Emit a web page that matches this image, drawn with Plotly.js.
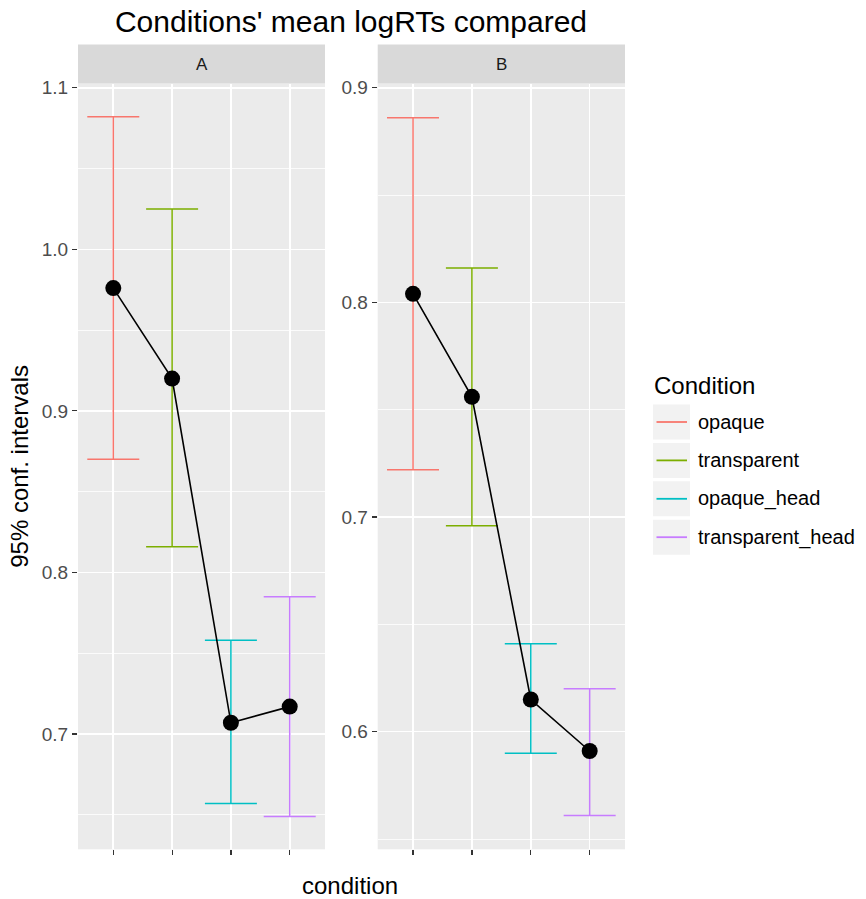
<!DOCTYPE html>
<html>
<head>
<meta charset="utf-8">
<script src="https://cdn.plot.ly/plotly-3.0.1.min.js"></script>
<style>html,body{margin:0;padding:0;background:#fff;}#chart{width:866px;height:899px;}</style>
</head>
<body>
<div id="chart"></div>
<script>
// ---- data ----
const categories = ['opaque', 'transparent', 'opaque_head', 'transparent_head'];
const colors = ['#F8766D', '#7CAE00', '#00BFC4', '#C77CFF'];
const panels = ['A', 'B'];
const meanA  = [0.976, 0.920, 0.707, 0.717];
const lowerA = [0.870, 0.816, 0.657, 0.649];
const upperA = [1.082, 1.025, 0.758, 0.785];
const meanB  = [0.804, 0.756, 0.615, 0.591];
const lowerB = [0.722, 0.696, 0.590, 0.561];
const upperB = [0.886, 0.816, 0.641, 0.620];
const yTicksA = [0.7, 0.8, 0.9, 1.0, 1.1];
const yTicksB = [0.6, 0.7, 0.8, 0.9];

const W = 866, H = 899;
const px = v => v / W;
const py = v => 1 - v / H;
const FONT = 'Liberation Sans, Arial, Helvetica, sans-serif';

const traces = [];
function addPanel(mean, lower, upper, xa, ya) {
  categories.forEach((c, i) => {
    traces.push({
      type: 'scatter', mode: 'markers', x: [c], y: [mean[i]],
      xaxis: xa, yaxis: ya, showlegend: false, hoverinfo: 'skip',
      marker: {opacity: 0, size: 1},
      error_y: {type: 'data', symmetric: false,
        array: [upper[i] - mean[i]], arrayminus: [mean[i] - lower[i]],
        color: colors[i], thickness: 1.5, width: 26}
    });
  });
  traces.push({
    type: 'scatter', mode: 'lines+markers', x: categories, y: mean,
    xaxis: xa, yaxis: ya, showlegend: false,
    line: {color: '#000', width: 1.6},
    marker: {color: '#000', size: 16}
  });
}
addPanel(meanA, lowerA, upperA, 'x', 'y');
addPanel(meanB, lowerB, upperB, 'x2', 'y2');

const yDom = [py(849.3), py(83.5)];
const xBase = {
  type: 'category', categoryorder: 'array', categoryarray: categories,
  range: [-0.6, 3.6], showticklabels: false, ticks: 'outside', ticklen: 5,
  tickwidth: 1.2, tickcolor: '#333333', showgrid: true, gridcolor: '#FFFFFF',
  gridwidth: 1.6, zeroline: false, showline: false, fixedrange: true
};
const yBase = {
  ticks: 'outside', ticklen: 5, tickwidth: 1.2, tickcolor: '#333333',
  tickfont: {family: FONT, size: 19, color: '#4D4D4D'}, tickformat: '.1f',
  tickmode: 'array', showgrid: true, gridcolor: '#FFFFFF', gridwidth: 1.6,
  minor: {dtick: 0.05, tick0: 0, showgrid: true, gridcolor: '#FFFFFF', gridwidth: 0.8, ticks: ''},
  zeroline: false, showline: false, fixedrange: true, domain: yDom
};

const shapes = [];
const annotations = [];
// facet strips
[[78, 325], [377.7, 625]].forEach((d, k) => {
  shapes.push({type: 'rect', xref: 'paper', yref: 'paper', x0: px(d[0]), x1: px(d[1]),
    y0: py(83.5), y1: py(44.5), fillcolor: '#D9D9D9', line: {width: 0}, layer: 'below'});
  annotations.push({xref: 'paper', yref: 'paper', x: px((d[0] + d[1]) / 2), y: py(64),
    text: panels[k], showarrow: false, xanchor: 'center', yanchor: 'middle',
    font: {family: FONT, size: 17, color: '#1A1A1A'}});
});
// shared x title
annotations.push({xref: 'paper', yref: 'paper', x: px(350), y: py(885), text: 'condition',
  showarrow: false, xanchor: 'center', yanchor: 'middle',
  font: {family: FONT, size: 24, color: '#000'}});
// legend
annotations.push({xref: 'paper', yref: 'paper', x: px(652), y: py(385), text: 'Condition',
  showarrow: false, xanchor: 'left', yanchor: 'middle',
  font: {family: FONT, size: 24, color: '#000'}});
const keyTop = 404.5, keyH = 35, keyGap = 3.4;
categories.forEach((c, i) => {
  const t = keyTop + i * (keyH + keyGap);
  const cy = t + keyH / 2;
  shapes.push({type: 'rect', xref: 'paper', yref: 'paper', x0: px(653), x1: px(690),
    y0: py(t + keyH), y1: py(t), fillcolor: '#F2F2F2', line: {width: 0}});
  shapes.push({type: 'line', xref: 'paper', yref: 'paper', x0: px(656.5), x1: px(687),
    y0: py(cy), y1: py(cy), line: {color: colors[i], width: 1.8}});
  annotations.push({xref: 'paper', yref: 'paper', x: px(696), y: py(cy), text: c,
    showarrow: false, xanchor: 'left', yanchor: 'middle',
    font: {family: FONT, size: 20, color: '#000'}});
});

const layout = {
  width: W, height: H, margin: {l: 0, r: 0, t: 0, b: 0},
  paper_bgcolor: '#FFFFFF', plot_bgcolor: '#EBEBEB', showlegend: false,
  font: {family: FONT},
  title: {text: "Conditions' mean logRTs compared", x: px(351), xanchor: 'center',
    y: py(21), yanchor: 'middle', font: {family: FONT, size: 30, color: '#000'}},
  xaxis: Object.assign({}, xBase, {domain: [px(78), px(325)], anchor: 'y'}),
  xaxis2: Object.assign({}, xBase, {domain: [px(377.7), px(625)], anchor: 'y2'}),
  yaxis: Object.assign({}, yBase, {anchor: 'x', range: [0.6287, 1.1026], tickvals: yTicksA,
    title: {text: '95% conf. intervals', standoff: 6, font: {family: FONT, size: 24, color: '#000'}}}),
  yaxis2: Object.assign({}, yBase, {anchor: 'x2', range: [0.5452, 0.902], tickvals: yTicksB}),
  shapes: shapes, annotations: annotations
};

Plotly.newPlot('chart', traces, layout, {displayModeBar: false, staticPlot: true});
</script>
</body>
</html>
